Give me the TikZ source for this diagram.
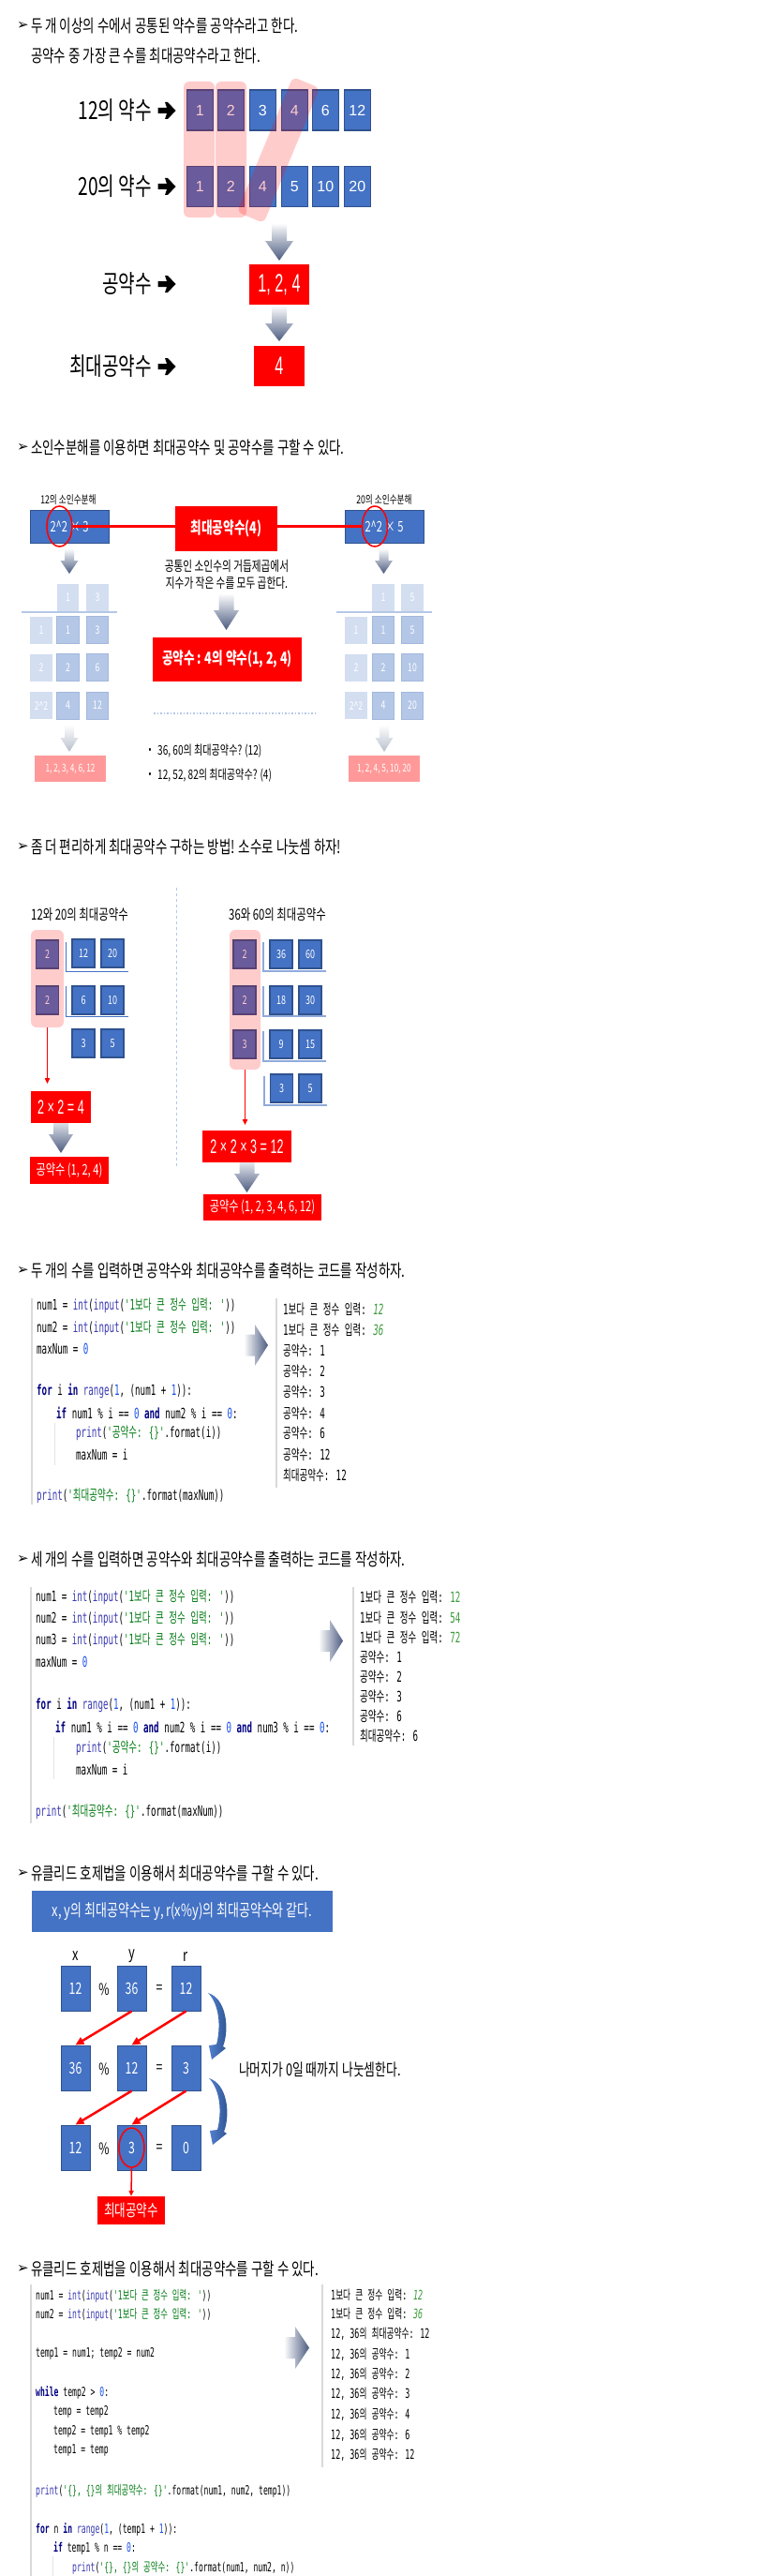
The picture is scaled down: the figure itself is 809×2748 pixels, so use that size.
\documentclass[tikz,border=0pt]{standalone}
\usepackage{fontspec}
\usetikzlibrary{arrows.meta,shapes.geometric}
\setmainfont[FakeStretch=0.72]{Noto Sans CJK KR}
\newfontfamily\fAr{Liberation Sans}
\newfontfamily\fArn[FakeStretch=0.6]{Liberation Sans}
\newfontfamily\fCode[FakeStretch=0.6,Ligatures=TeXOff]{DejaVu Sans Mono}
\newfontfamily\fCk[FakeStretch=0.62,Ligatures=TeXOff]{Noto Sans CJK KR}
\newfontfamily\fDv{DejaVu Sans}
\newcommand\fsz[1]{\fontsize{#1}{#1}\selectfont}
\definecolor{mblue}{HTML}{4472C4}
\definecolor{mbord}{HTML}{2F528F}
\definecolor{pinkb}{HTML}{FF9999}
\definecolor{glight}{HTML}{D3DEF1}
\definecolor{gmed}{HTML}{B4C7E7}
\definecolor{gmedb}{HTML}{A2B7DC}
\definecolor{arrdk}{HTML}{4B5B80}
\definecolor{arrlt}{HTML}{B8BFCC}
\definecolor{kwc}{HTML}{000080}
\definecolor{bic}{HTML}{3B3BB3}
\definecolor{nuc}{HTML}{1750EB}
\definecolor{stc}{HTML}{067D17}
\definecolor{outg}{HTML}{3A9A3A}
\definecolor{cgray}{HTML}{D9D9D9}
\definecolor{brkc}{HTML}{8FAADC}
\definecolor{cal}{HTML}{5481D0}
\definecolor{cad}{HTML}{2B4F8A}
\newcommand\Kw[1]{\textcolor{kwc}{\bfseries #1}}
\newcommand\Bi[1]{\textcolor{bic}{#1}}
\newcommand\Nu[1]{\textcolor{nuc}{#1}}
\newcommand\St[1]{\textcolor{stc}{#1}}
\newcommand\Hk[1]{{\fCk #1}}
\newcommand\On[1]{\textcolor{outg}{\itshape #1}}
\newcommand\Og[1]{\textcolor{outg}{#1}}
\newcommand\KS{\St{'1\Hk{보다} \Hk{큰} \Hk{정수} \Hk{입력}: '}}
\newcommand\IN{1\Hk{보다} \Hk{큰} \Hk{정수} \Hk{입력}: }
\newcommand\darr[7]{\shade[top color=white, bottom color=#7] (#1-#5,#2) -- (#1+#5,#2) -- (#1+#5,#6) -- (#1+#4,#6) -- (#1,#3) -- (#1-#4,#6) -- (#1-#5,#6) -- cycle;}
\newcommand\rarr[6]{\shade[left color=white, right color=arrdk] (#1,#3-#5) -- (#6,#3-#5) -- (#6,#3-#4) -- (#2,#3) -- (#6,#3+#4) -- (#6,#3+#5) -- (#1,#3+#5) -- cycle;}
\newcommand\ttl[3]{\node[anchor=west,inner sep=0,font=\fDv\fsz{15}] (#1b) at (18,#2) {➢};\node[anchor=west,inner sep=0,font=\fsz{18.7}] (#1) at (33,#2) {#3};}
\newcommand\bigarr[2]{\fill[black] (#1-9.5,#2-3) -- (#1,#2-3) -- (#1-2,#2-9) -- (#1+1,#2-9) -- (#1+9.5,#2) -- (#1+1,#2+9) -- (#1-2,#2+9) -- (#1,#2+3) -- (#1-9.5,#2+3) -- cycle;}
\newcommand\carr{\shade[left color=cal, right color=cad] (222,2126) .. controls (242,2132) and (245,2165) .. (238,2183) -- (241,2185) -- (226,2197) -- (223,2182) -- (231,2181) .. controls (236,2162) and (234,2138) .. (222,2126) -- cycle;}
\tikzset{
  nbox/.style={fill=mblue, draw=mbord, line width=1.2, text=white, inner sep=0, minimum width=28, minimum height=43, font=\fAr\fsz{16}},
  pinkov/.style={fill=red, fill opacity=0.2, draw=none, rounded corners=6, inner sep=0},
  rbox/.style={fill=red, text=white, inner sep=0},
  pbox/.style={fill=pinkb, text=white, inner sep=0, font=\fsz{11.5}},
  bbox/.style={fill=mblue, draw=mbord, line width=1, text=white, inner sep=0, minimum width=84, minimum height=35, font=\fsz{15.5}},
  gl/.style={fill=glight, text=white, inner sep=0, minimum width=23.5, minimum height=29, font=\fsz{12}},
  gm/.style={gl, fill=gmed, draw=gmedb, line width=1},
  gline/.style={draw=gmed, line width=1.5},
  sbox/.style={fill=mblue, draw=mbord, line width=1.2, text=white, inner sep=0, minimum width=24, minimum height=30, font=\fsz{12.5}},
  brk/.style={draw=mblue, line width=1},
  brkb/.style={draw=brkc, line width=1.2},
  redarr/.style={draw=red, line width=1.5, -{Triangle[length=6pt,width=5pt]}},
  redarr2/.style={draw=red, line width=2.5, -{Triangle[length=9pt,width=8pt]}},
  ebox/.style={fill=mblue, draw=mbord, line width=1, text=white, inner sep=0, minimum width=31, minimum height=48, font=\fsz{17}},
  code/.style={anchor=west, inner sep=0, font=\fCode\fsz{15.3}},
  codes/.style={anchor=west, inner sep=0, font=\fCode\fsz{13.5}},
  outs/.style={anchor=west, inner sep=0, font=\fCode\fsz{14}},
  cgl/.style={draw=cgray, line width=1.5},
  guide/.style={draw=cgray!70, line width=0.8},
  lab/.style={inner sep=0, font=\fsz{17}}
}
\begin{document}
\begin{tikzpicture}[x=1pt,y=-1pt]
\useasboundingbox (0,0) rectangle (809,2748);
\fill[white] (0,0) rectangle (809,2748);

%% ---------------- Section 1
\ttl{t1}{28}{두 개 이상의 수에서 공통된 약수를 공약수라고 한다.}
\node[anchor=west,inner sep=0,font=\fsz{18.7}] (t1s) at (33,60) {공약수 중 가장 큰 수를 최대공약수라고 한다.};

\node[anchor=east,inner sep=0,font=\fsz{26.5}] (l12) at (162,118) {12의 약수};
\bigarr{178}{118}
\node[anchor=east,inner sep=0,font=\fsz{26.5}] (l20) at (162,199) {20의 약수};
\bigarr{178}{199}

\node[nbox] (a1) at (213.25,117.5) {1};
\node[nbox] (a2) at (246.25,117.5) {2};
\node[nbox] (a3) at (280.25,117.5) {3};
\node[nbox] (a4) at (314.25,117.5) {4};
\node[nbox] (a5) at (347.25,117.5) {6};
\node[nbox] (a6) at (381.25,117.5) {12};
\node[nbox] (b1) at (213.25,199) {1};
\node[nbox] (b2) at (246.25,199) {2};
\node[nbox] (b3) at (280.25,199) {4};
\node[nbox] (b4) at (314.25,199) {5};
\node[nbox] (b5) at (347.25,199) {10};
\node[nbox] (b6) at (381.25,199) {20};

\node[pinkov, minimum width=33, minimum height=145] (pk1) at (212.5,159.5) {};
\node[pinkov, minimum width=33, minimum height=145] (pk2) at (246.5,159.5) {};
\node[pinkov, rotate=-22.5, minimum width=31, minimum height=156] (band) at (297,160) {};

\darr{298}{238}{278}{15}{8}{257}{arrdk}
\node[rbox, minimum width=64, minimum height=43, font=\fArn\fsz{27}] (cd) at (298,303.5) {1, 2, 4};
\darr{298}{326}{364}{15}{8}{345}{arrdk}
\node[rbox, minimum width=54, minimum height=43, font=\fArn\fsz{27}] (gcd) at (298,390.5) {4};
\node[anchor=east,inner sep=0,font=\fsz{26.5}] (lcd) at (162,303) {공약수};
\bigarr{178}{303}
\node[anchor=east,inner sep=0,font=\fsz{26.5}] (lgcd) at (162,391) {최대공약수};
\bigarr{178}{391}

%% ---------------- Section 2
\ttl{t2}{477}{소인수분해를 이용하면 최대공약수 및 공약수를 구할 수 있다.}
\node[inner sep=0,font=\fsz{12}] (f12) at (73,533) {12의 소인수분해};
\node[inner sep=0,font=\fsz{12}] (f20) at (410,533) {20의 소인수분해};
\node[bbox] (p12) at (74,561.5) {2\textasciicircum2 × 3};
\node[bbox] (p20) at (410,561.5) {2\textasciicircum2 × 5};
\node[draw=red, line width=1.5, ellipse, minimum width=27, minimum height=43, inner sep=0] (e12) at (63.5,561.5) {};
\node[draw=red, line width=1.5, ellipse, minimum width=27, minimum height=43, inner sep=0] (e20) at (400,561.5) {};
\node[rbox, minimum width=109, minimum height=48, font=\bfseries\fsz{17.5}] (g4) at (241.5,564) {최대공약수(4)};
\draw[red, line width=3.5] (e12.east) -- (e12.east -| g4.west);
\draw[red, line width=3.5] (g4.east |- e20.west) -- (e20.west);
\node[inner sep=0, align=center, font=\fontsize{14.8}{18}\selectfont] (desc) at (242,613) {공통인 소인수의 거듭제곱에서\\지수가 작은 수를 모두 곱한다.};

\darr{74}{585}{612}{9.5}{5}{598}{arrdk}
\darr{409.5}{585}{612}{9.5}{5}{598}{arrdk}

% left grid
\node[gl] (L01) at (72.5,637) {1};
\node[gl] (L02) at (104,637) {3};
\draw[gline] (23,653) -- (125,653);
\node[gl] (L10) at (44,672) {1};
\node[gm] (L11) at (72.5,672) {1};
\node[gm] (L12) at (104,672) {3};
\node[gl] (L20) at (44,712) {2};
\node[gm] (L21) at (72.5,712) {2};
\node[gm] (L22) at (104,712) {6};
\node[gl] (L30) at (44,752.5) {2\textasciicircum2};
\node[gm] (L31) at (72.5,752.5) {4};
\node[gm] (L32) at (104,752.5) {12};
% right grid
\node[gl] (R01) at (409,637) {1};
\node[gl] (R02) at (440,637) {5};
\draw[gline] (359,653) -- (461,653);
\node[gl] (R10) at (380,672) {1};
\node[gm] (R11) at (409,672) {1};
\node[gm] (R12) at (440,672) {5};
\node[gl] (R20) at (380,712) {2};
\node[gm] (R21) at (409,712) {2};
\node[gm] (R22) at (440,712) {10};
\node[gl] (R30) at (380,752.5) {2\textasciicircum2};
\node[gm] (R31) at (409,752.5) {4};
\node[gm] (R32) at (440,752.5) {20};

\darr{74}{773}{802}{9.5}{5}{787}{arrlt}
\darr{410}{773}{802}{9.5}{5}{787}{arrlt}
\node[pbox, minimum width=76, minimum height=28] (cdl) at (75,820) {1, 2, 3, 4, 6, 12};
\node[pbox, minimum width=76, minimum height=28] (cdr) at (410,820) {1, 2, 4, 5, 10, 20};

\darr{241.5}{633}{672}{13.5}{8}{651}{arrdk}
\node[rbox, minimum width=159, minimum height=47, font=\bfseries\fsz{17.5}] (cdbox) at (242.5,703.5) {공약수 : 4의 약수(1, 2, 4)};
\draw[gline, dotted] (164,761) -- (337,761);
\node[inner sep=0,font=\fsz{12}] (bu1) at (160,801) {•};
\node[anchor=west,inner sep=0,font=\fsz{14}] (q1) at (168,801) {36, 60의 최대공약수? (12)};
\node[inner sep=0,font=\fsz{12}] (bu2) at (160,827) {•};
\node[anchor=west,inner sep=0,font=\fsz{14}] (q2) at (168,827) {12, 52, 82의 최대공약수? (4)};

%% ---------------- Section 3
\ttl{t3}{903}{좀 더 편리하게 최대공약수 구하는 방법! 소수로 나눗셈 하자!}
\draw[gline, line width=1, dash pattern=on 3pt off 3pt] (188,947) -- (188,1247);
\node[anchor=west,inner sep=0,font=\fsz{15.8}] (h1) at (33,976) {12와 20의 최대공약수};
\node[anchor=west,inner sep=0,font=\fsz{15.8}] (h2) at (244,976) {36와 60의 최대공약수};

\node[sbox] (d1) at (50.5,1018) {2};
\node[sbox] (d2) at (50.5,1067) {2};
\node[sbox] (n11) at (89,1017) {12};
\node[sbox] (n12) at (120,1017) {20};
\node[sbox] (n21) at (89,1067) {6};
\node[sbox] (n22) at (120,1067) {10};
\node[sbox] (n31) at (89,1113) {3};
\node[sbox] (n32) at (120,1113) {5};
\draw[brk] (70,1005) -- (70,1036) -- (137,1036);
\draw[brk] (70,1052) -- (70,1084) -- (137,1084);
\node[pinkov, minimum width=35, minimum height=104] (pc1) at (50.5,1044) {};
\draw[redarr] (pc1.south) -- ++(0,60);
\darr{65}{1190}{1230}{13}{8}{1210}{arrdk}
\node[rbox, minimum width=64, minimum height=34, font=\fArn\fsz{21}] (m1) at (65,1181) {2 × 2 = 4};
\node[rbox, minimum width=84, minimum height=29, font=\fsz{15.5}] (cd1) at (74,1248.5) {공약수 (1, 2, 4)};

\node[sbox] (d3) at (261,1018) {2};
\node[sbox] (d4) at (261,1067) {2};
\node[sbox] (d5) at (261,1114) {3};
\node[sbox] (k11) at (300,1018) {36};
\node[sbox] (k12) at (331,1018) {60};
\node[sbox] (k21) at (300,1067) {18};
\node[sbox] (k22) at (331,1067) {30};
\node[sbox] (k31) at (300,1114) {9};
\node[sbox] (k32) at (331,1114) {15};
\node[sbox] (k41) at (300.5,1161) {3};
\node[sbox] (k42) at (331,1161) {5};
\draw[brkb] (281,1005) -- (281,1036) -- (348,1036);
\draw[brkb] (281,1052) -- (281,1084) -- (348,1084);
\draw[brkb] (281,1100) -- (281,1132) -- (348,1132);
\draw[brkb] (282,1148) -- (282,1179) -- (349,1179);
\node[pinkov, minimum width=33, minimum height=149] (pc2) at (261.5,1066.5) {};
\draw[redarr] (pc2.south) -- ++(0,59);
\darr{263.5}{1234}{1272}{13.5}{8}{1252}{arrdk}
\node[rbox, minimum width=95, minimum height=34, font=\fArn\fsz{21}] (m2) at (263.5,1223) {2 × 2 × 3 = 12};
\node[rbox, minimum width=126, minimum height=28, font=\fsz{15.5}] (cd2) at (280,1288) {공약수 (1, 2, 3, 4, 6, 12)};

%% ---------------- Section 4
\ttl{t4}{1355}{두 개의 수를 입력하면 공약수와 최대공약수를 출력하는 코드를 작성하자.}
\draw[cgl] (34,1385) -- (34,1605);
\draw[guide] (58,1518) -- (58,1563);
\node[code] (c4a) at (39,1393) {num1 = \Bi{int}(\Bi{input}(\KS))};
\node[code] (c4b) at (39,1417) {num2 = \Bi{int}(\Bi{input}(\KS))};
\node[code] (c4c) at (39,1439) {maxNum = \Nu{0}};
\node[code] (c4d) at (39,1484) {\Kw{for} i \Kw{in} \Bi{range}(\Nu{1}, (num1 + \Nu{1})):};
\node[code] (c4e) at (60,1507) {\Kw{if} num1 \% i == \Nu{0} \Kw{and} num2 \% i == \Nu{0}:};
\node[code] (c4f) at (81,1529) {\Bi{print}(\St{'\Hk{공약수}: \{\}'}.format(i))};
\node[code] (c4g) at (81,1552) {maxNum = i};
\node[code] (c4h) at (39,1596) {\Bi{print}(\St{'\Hk{최대공약수}: \{\}'}.format(maxNum))};
\rarr{260}{286}{1435}{22}{11.5}{272}
\draw[cgl] (295,1385) -- (295,1587);
\node[code] (o4a) at (302,1397) {\IN\On{12}};
\node[code] (o4b) at (302,1419) {\IN\On{36}};
\node[code] (o4c) at (302,1441) {\Hk{공약수}: 1};
\node[code] (o4d) at (302,1463) {\Hk{공약수}: 2};
\node[code] (o4e) at (302,1485) {\Hk{공약수}: 3};
\node[code] (o4f) at (302,1508) {\Hk{공약수}: 4};
\node[code] (o4g) at (302,1529) {\Hk{공약수}: 6};
\node[code] (o4h) at (302,1552) {\Hk{공약수}: 12};
\node[code] (o4i) at (302,1574) {\Hk{최대공약수}: 12};

%% ---------------- Section 5
\ttl{t5}{1663}{세 개의 수를 입력하면 공약수와 최대공약수를 출력하는 코드를 작성하자.}
\draw[cgl] (33,1693) -- (33,1945);
\draw[guide] (57,1853) -- (57,1898);
\node[code] (c5a) at (38,1704) {num1 = \Bi{int}(\Bi{input}(\KS))};
\node[code] (c5b) at (38,1727) {num2 = \Bi{int}(\Bi{input}(\KS))};
\node[code] (c5c) at (38,1750) {num3 = \Bi{int}(\Bi{input}(\KS))};
\node[code] (c5d) at (38,1773) {maxNum = \Nu{0}};
\node[code] (c5e) at (38,1819) {\Kw{for} i \Kw{in} \Bi{range}(\Nu{1}, (num1 + \Nu{1})):};
\node[code] (c5f) at (59,1842) {\Kw{if} num1 \% i == \Nu{0} \Kw{and} num2 \% i == \Nu{0} \Kw{and} num3 \% i == \Nu{0}:};
\node[code] (c5g) at (81,1865) {\Bi{print}(\St{'\Hk{공약수}: \{\}'}.format(i))};
\node[code] (c5h) at (81,1888) {maxNum = i};
\node[code] (c5i) at (38,1933) {\Bi{print}(\St{'\Hk{최대공약수}: \{\}'}.format(maxNum))};
\rarr{340}{366}{1750.5}{22.5}{11.5}{352}
\draw[cgl] (377,1693) -- (377,1862);
\node[code] (o5a) at (384,1704) {\IN\Og{12}};
\node[code] (o5b) at (384,1726) {\IN\Og{54}};
\node[code] (o5c) at (384,1747) {\IN\Og{72}};
\node[code] (o5d) at (384,1768) {\Hk{공약수}: 1};
\node[code] (o5e) at (384,1789) {\Hk{공약수}: 2};
\node[code] (o5f) at (384,1810) {\Hk{공약수}: 3};
\node[code] (o5g) at (384,1831) {\Hk{공약수}: 6};
\node[code] (o5h) at (384,1852) {\Hk{최대공약수}: 6};

%% ---------------- Section 6
\ttl{t6}{1998}{유클리드 호제법을 이용해서 최대공약수를 구할 수 있다.}
\node[fill=mblue, text=white, inner sep=0, minimum width=321, minimum height=44, font=\fsz{18}] (ban) at (194.5,2039) {x, y의 최대공약수는 y, r(x\%y)의 최대공약수와 같다.};
\node[inner sep=0,font=\fsz{18}] (lx) at (80.5,2087) {x};
\node[inner sep=0,font=\fsz{18}] (ly) at (140.5,2087) {y};
\node[inner sep=0,font=\fsz{18}] (lr) at (198.5,2087) {r};
\node[ebox] (e11) at (80.5,2121) {12};
\node[ebox] (e12b) at (140.5,2121) {36};
\node[ebox] (e13) at (198.5,2121) {12};
\node[ebox] (e21) at (80.5,2206) {36};
\node[ebox] (e22) at (140.5,2206) {12};
\node[ebox] (e23) at (198.5,2206) {3};
\node[ebox] (e31) at (80.5,2291) {12};
\node[ebox] (e32) at (140.5,2291) {3};
\node[ebox] (e33) at (198.5,2291) {0};
\node[lab] (pc1a) at (111,2122) {\%};
\node[lab] (eq1) at (170,2122) {=};
\node[lab] (pc2a) at (111,2207) {\%};
\node[lab] (eq2) at (170,2207) {=};
\node[lab] (pc3a) at (111,2292) {\%};
\node[lab] (eq3) at (170,2292) {=};
\draw[redarr2] (e12b.south) -- (e21.north);
\draw[redarr2] (e13.south) -- (e22.north);
\draw[redarr2] (e22.south) -- (e31.north);
\draw[redarr2] (e23.south) -- (e32.north);
\carr
\begin{scope}[shift={(1,91)}]\carr\end{scope}
\node[anchor=west,inner sep=0,font=\fsz{17.8}] (rem) at (255,2208) {나머지가 0일 때까지 나눗셈한다.};
\node[draw=red, line width=1.5, ellipse, minimum width=27, minimum height=42, inner sep=0] (circ) at (e32) {};
\node[rbox, minimum width=72, minimum height=30, font=\fsz{17.5}] (gcdr) at (140,2358) {최대공약수};
\draw[redarr] (circ.south) -- (gcdr.north);

%% ---------------- Section 7
\ttl{t7}{2420}{유클리드 호제법을 이용해서 최대공약수를 구할 수 있다.}
\draw[cgl] (33,2437) -- (33,2748);
\draw[guide] (56,2727) -- (56,2748);
\node[codes] (c7a) at (38,2449) {num1 = \Bi{int}(\Bi{input}(\KS))};
\node[codes] (c7b) at (38,2469) {num2 = \Bi{int}(\Bi{input}(\KS))};
\node[codes] (c7c) at (38,2511) {temp1 = num1; temp2 = num2};
\node[codes] (c7d) at (38,2552) {\Kw{while} temp2 > \Nu{0}:};
\node[codes] (c7e) at (57,2573) {temp = temp2};
\node[codes] (c7f) at (57,2594) {temp2 = temp1 \% temp2};
\node[codes] (c7g) at (57,2614) {temp1 = temp};
\node[codes] (c7h) at (38,2657) {\Bi{print}(\St{'\{\}, \{\}\Hk{의} \Hk{최대공약수}: \{\}'}.format(num1, num2, temp1))};
\node[codes] (c7i) at (38,2698) {\Kw{for} n \Kw{in} \Bi{range}(\Nu{1}, (temp1 + \Nu{1})):};
\node[codes] (c7j) at (57,2718) {\Kw{if} temp1 \% n == \Nu{0}:};
\node[codes] (c7k) at (77,2739) {\Bi{print}(\St{'\{\}, \{\}\Hk{의} \Hk{공약수}: \{\}'}.format(num1, num2, n))};
\rarr{303}{330}{2504.5}{22.5}{11.5}{315}
\draw[cgl] (344,2437) -- (344,2632);
\node[outs] (o7a) at (353,2448) {\IN\On{12}};
\node[outs] (o7b) at (353,2468) {\IN\On{36}};
\node[outs] (o7c) at (353,2490) {12, 36\Hk{의} \Hk{최대공약수}: 12};
\node[outs] (o7d) at (353,2512) {12, 36\Hk{의} \Hk{공약수}: 1};
\node[outs] (o7e) at (353,2533) {12, 36\Hk{의} \Hk{공약수}: 2};
\node[outs] (o7f) at (353,2554) {12, 36\Hk{의} \Hk{공약수}: 3};
\node[outs] (o7g) at (353,2576) {12, 36\Hk{의} \Hk{공약수}: 4};
\node[outs] (o7h) at (353,2598) {12, 36\Hk{의} \Hk{공약수}: 6};
\node[outs] (o7i) at (353,2619) {12, 36\Hk{의} \Hk{공약수}: 12};
\end{tikzpicture}
\end{document}
